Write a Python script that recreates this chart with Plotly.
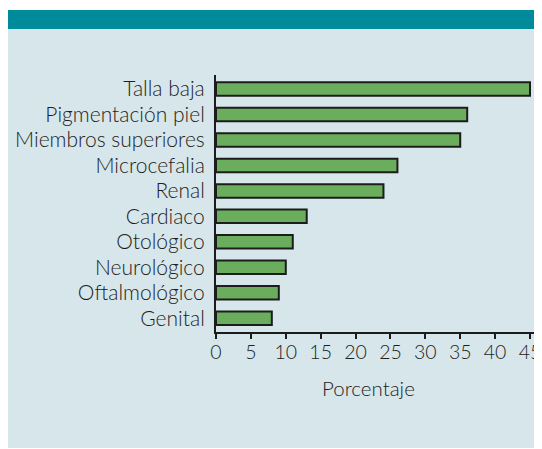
import plotly.graph_objects as go

categories = ["Talla baja", "Pigmentación piel", "Miembros superiores", "Microcefalia",
              "Renal", "Cardiaco", "Otológico", "Neurológico", "Oftalmológico", "Genital"]
values = [45, 36, 35, 26, 24, 13, 11, 10, 9, 8]
x_ticks = [0, 5, 10, 15, 20, 25, 30, 35, 40, 45]
x_title = "Porcentaje"

OFF = 8  # browser body margin
W, H = 542 - OFF, 449 - OFF
# plot area in page pixels
PX0, PX1, PY0, PY1 = 216, 542, 75, 332
L, R, T, B = PX0 - OFF, 542 - PX1, PY0 - OFF, H - (PY1 - OFF)
pw, ph = W - L - R, H - T - B

def px_x(p):
    return (p - PX0) / pw

def px_y(p):
    return (PY1 - p) / ph

font = "Lato"
txt = "#1e1e1e"
unit = (530 - 216) / 45

fig = go.Figure(go.Bar(
    y=categories, x=values, orientation="h", width=0.53,
    marker=dict(color="#6aae5d", line=dict(color="#1c1c1c", width=2)),
))

fig.update_layout(
    width=W, height=H,
    margin=dict(l=L, r=R, t=T, b=B, autoexpand=False),
    paper_bgcolor="white", plot_bgcolor="rgba(0,0,0,0)",
    showlegend=False,
    font=dict(family=font, size=20, color=txt, weight=300),
    xaxis=dict(range=[0, pw / unit], tickvals=x_ticks, ticks="outside",
               ticklen=5, tickwidth=1.5, tickcolor="#1c1c1c", showgrid=False,
               zeroline=False, showline=True, linecolor="#1c1c1c", linewidth=2,
               ticklabelstandoff=-3,
               tickfont=dict(size=19.5, color=txt, weight=300), automargin=False),
    yaxis=dict(range=[9.54, -0.55], showgrid=False, zeroline=False, showline=True,
               linecolor="#1c1c1c", linewidth=2, ticks="", ticklabelstandoff=5,
               tickfont=dict(size=21, color=txt, weight=300), automargin=False),
    shapes=[
        dict(type="rect", xref="paper", yref="paper", x0=px_x(8), x1=px_x(542),
             y0=px_y(448), y1=px_y(29), fillcolor="#d6e6ea", line_width=0, layer="below"),
        dict(type="rect", xref="paper", yref="paper", x0=px_x(8), x1=px_x(542),
             y0=px_y(29), y1=px_y(10), fillcolor="#008b9a", line_width=0, layer="below"),
    ],
    annotations=[dict(text=x_title, xref="paper", yref="paper", x=px_x(368), y=px_y(388),
                      xanchor="center", yanchor="middle", showarrow=False,
                      font=dict(size=20.5, color=txt, weight=300))],
)

fig.write_html("out.html")
